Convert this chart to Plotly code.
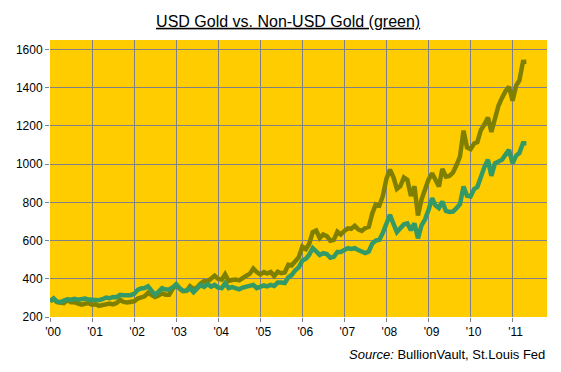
import pandas as pd
import plotly.graph_objects as go

months = pd.date_range("2000-01-01", periods=137, freq="MS")

usd_gold = [
    283.25, 293.65, 278.40, 275.20, 272.25, 288.15, 276.75, 277.00, 273.65, 264.50, 269.10, 272.65,
    264.50, 266.70, 257.70, 263.15, 267.50, 270.60, 265.90, 273.00, 290.00, 278.75, 275.50, 276.50,
    282.30, 296.85, 301.40, 308.20, 326.60, 318.50, 304.65, 312.80, 323.70, 316.90, 317.05, 347.20,
    367.50, 347.45, 334.85, 336.75, 361.40, 346.00, 354.75, 375.60, 388.00, 386.25, 398.35, 416.25,
    399.75, 395.85, 423.70, 388.50, 393.25, 395.80, 391.40, 407.25, 415.65, 425.55, 453.40, 435.60,
    422.15, 435.45, 427.50, 435.70, 414.45, 437.10, 429.00, 433.25, 473.25, 470.75, 495.65, 513.00,
    568.75, 556.00, 582.00, 644.00, 653.00, 613.50, 632.50, 623.50, 599.25, 603.75, 646.70, 632.00,
    650.50, 664.20, 661.75, 677.00, 659.10, 650.50, 665.50, 672.00, 743.00, 789.50, 783.50, 833.75,
    923.25, 971.50, 933.50, 871.00, 885.75, 930.25, 918.00, 833.00, 884.50, 730.75, 814.50, 869.75,
    919.50, 952.00, 916.50, 883.25, 975.50, 934.50, 939.00, 955.50, 995.75, 1040.00, 1175.75, 1087.50,
    1078.50, 1108.25, 1115.50, 1179.25, 1207.50, 1244.00, 1169.00, 1246.00, 1307.00, 1346.75, 1383.50, 1405.50,
    1332.00, 1411.00, 1439.00, 1535.50, 1536.50,
]

non_usd_gold = [
    281, 298, 281, 277, 286, 293, 291, 295, 291, 295, 297, 291,
    288, 290, 288, 293, 302, 298, 305, 304, 316, 314, 314, 314,
    321, 342, 349, 352, 361, 342, 316, 333, 351, 344, 344, 354,
    372, 351, 337, 338, 351, 330, 351, 368, 358, 372, 359, 368,
    354, 351, 377, 351, 356, 351, 345, 354, 359, 359, 368, 351,
    359, 365, 360, 368, 362, 380, 380, 378, 408, 420, 445, 460,
    496, 505, 525, 560, 543, 525, 534, 530, 510, 515, 540, 540,
    551, 560, 556, 560, 551, 540, 535, 543, 585, 600, 604, 640,
    695, 735, 690, 645, 665, 685, 690, 655, 690, 612, 680, 710,
    760, 822, 785, 770, 805, 755, 750, 752, 770, 790, 883, 835,
    831, 870, 880, 940, 985, 1023, 939, 1005, 1014, 1023, 1050, 1075,
    1005, 1045, 1058, 1110, 1110,
]

year_ticks = pd.date_range("2000-01-01", periods=12, freq="YS")
year_labels = ["'00", "'01", "'02", "'03", "'04", "'05", "'06", "'07", "'08", "'09", "'10", "'11"]
y_ticks = [200, 400, 600, 800, 1000, 1200, 1400, 1600]

GRID = "#80808A"

fig = go.Figure()
fig.add_trace(go.Scatter(x=months, y=usd_gold, mode="lines",
                         line=dict(color="#808000", width=4.5), name="USD Gold"))
fig.add_trace(go.Scatter(x=months, y=non_usd_gold, mode="lines",
                         line=dict(color="#339966", width=4.5), name="Non-USD Gold"))

# page body has an 8px margin, so the figure is sized to fit within the window
fig.update_layout(
    width=545, height=356,
    margin=dict(l=42, r=6, t=32, b=47),
    paper_bgcolor="white",
    plot_bgcolor="#FFCC00",
    showlegend=False,
    font=dict(family="Liberation Sans, Arial, sans-serif", size=12, color="black"),
    title=dict(text="<u>USD Gold vs. Non-USD Gold (green)</u>",
               x=0.514, xanchor="center", y=0.963, yanchor="middle",
               font=dict(size=16, color="black")),
)
fig.update_xaxes(
    range=["2000-01-01", "2011-10-27"],
    tickvals=year_ticks, ticktext=year_labels,
    showgrid=True, gridcolor=GRID, gridwidth=1,
    ticks="outside", ticklen=4, tickcolor=GRID,
    showline=False, zeroline=False,
    tickfont=dict(size=12),
    ticklabelshift=3,
)
fig.update_yaxes(
    range=[200, 1650],
    tickvals=y_ticks,
    showgrid=True, gridcolor=GRID, gridwidth=1,
    ticks="outside", ticklen=4, tickcolor=GRID,
    showline=False, zeroline=False,
    tickfont=dict(size=12),
)
fig.add_annotation(
    text="<i>Source:</i> BullionVault, St.Louis Fed",
    xref="paper", yref="paper", x=1.0, y=-0.137,
    xanchor="right", yanchor="middle", showarrow=False,
    font=dict(size=13, color="black"),
)

fig.write_html("out.html")
